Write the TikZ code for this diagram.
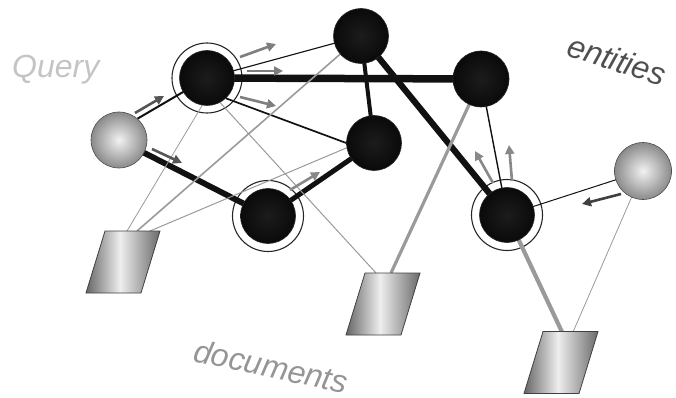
\documentclass[tikz,border=0pt]{standalone}
\usepackage{fontspec}
\setmainfont{Liberation Sans}
\usetikzlibrary{arrows.meta}
\pgfdeclarelayer{ringlayer}
\pgfdeclarelayer{edgelayer}
\pgfsetlayers{ringlayer,edgelayer,main}
\definecolor{entin}{HTML}{1C1C1C}
\definecolor{entout}{HTML}{0A0A0A}
\definecolor{ballin}{HTML}{F2F2F2}
\definecolor{ballout}{HTML}{8A8A8A}
\definecolor{docdark}{HTML}{666666}
\definecolor{doclight}{HTML}{EEEEEE}
\definecolor{docdarkb}{HTML}{6A6A6A}
\definecolor{docline}{HTML}{404040}
\definecolor{blk}{HTML}{111111}
\definecolor{gry}{HTML}{9A9A9A}
\definecolor{qcol}{HTML}{C4C4C4}
\definecolor{ecol}{HTML}{505050}
\definecolor{dcol}{HTML}{959595}
\definecolor{arrdark}{HTML}{555555}
\definecolor{arrmid}{HTML}{7E7E7E}
\definecolor{arrlight}{HTML}{888888}
\definecolor{arrdarker}{HTML}{404040}
\pgfdeclarehorizontalshading{docshade}{100bp}{color(0bp)=(docdark); color(25bp)=(docdark); color(48bp)=(doclight); color(75bp)=(docdarkb); color(100bp)=(docdarkb)}
\newcommand\docpara[1]{\shade[shading=docshade, draw=docline, line width=0.8pt, shift={(#1)}] (-18,-31) -- (37,-31) -- (18,31) -- (-37,31) -- cycle;}
\begin{document}
\begin{tikzpicture}[x=1pt,y=-1pt,
  ent/.style={circle, minimum size=55pt, inner sep=0pt, draw=black!85, line width=0.6pt, inner color=entin, outer color=entout},
  ball/.style={circle, minimum size=56pt, inner sep=0pt, draw=gray!60!black, line width=0.6pt, inner color=ballin, outer color=ballout},
  ringnode/.style={circle, minimum size=70pt, inner sep=0pt, draw=black!85, line width=1.1pt, fill=white},
  bline/.style={draw=blk},
  gline/.style={draw=gry},
  flow/.style={line width=2.6pt, -{Triangle[length=9pt,width=9pt]}},
  lab/.style={inner sep=0pt, font=\fontsize{32}{32}\selectfont\itshape}
]
\useasboundingbox (0,0) rectangle (676,398);

% nodes
\node[ball] (q1) at (119,140) {};
\node[ent] (e1) at (207,78) {};
\node[ent] (e2) at (361,36) {};
\node[ent, minimum size=56pt] (e3) at (481,79) {};
\node[ent] (e4) at (374,143) {};
\node[ent] (e5) at (268,216) {};
\node[ent] (e6) at (507,215) {};
\node[ball, minimum size=57pt] (q2) at (643,171) {};

\begin{pgfonlayer}{ringlayer}
\node[ringnode] (r1) at (e1) {};
\node[ringnode, minimum size=71pt] (r5) at (e5) {};
\node[ringnode, minimum size=71pt] (r6) at (e6) {};
\end{pgfonlayer}

% documents
\coordinate (d1) at (123,262);
\coordinate (d2) at (383,304);
\coordinate (d3) at (561,362.5);
\coordinate (d1a) at (127,231);
\coordinate (d1b) at (137,231);
\coordinate (d1c) at (150,231);
\coordinate (d2a) at (376,273);
\coordinate (d2b) at (391,273);
\coordinate (d3a) at (562,332);
\coordinate (d3b) at (573,332);
\docpara{d1}
\docpara{d2}
\docpara{d3}

\begin{pgfonlayer}{edgelayer}
\draw[bline, line width=2pt] (q1.49) -- (e1.center);
\draw[bline, line width=5.8pt] (q1.center) -- (e5.center);
\draw[bline, line width=7.5pt] (e1.center) -- (e3.center);
\draw[bline, line width=1.1pt] (e1.center) -- (e2.center);
\draw[bline, line width=1.7pt] (e1.-47) -- (e4.180);
\draw[bline, line width=4pt] (e2.center) -- (e4.center);
\draw[bline, line width=6.2pt] (e2.center) -- (e6.center);
\draw[bline, line width=5pt] (e4.center) -- (e5.center);
\draw[bline, line width=1.4pt] (e3.center) -- (e6.center);
\draw[bline, line width=1pt] (e6.center) -- (q2.center);
\draw[gline, line width=0.8pt] (e1.-100) -- (d1a);
\draw[gline, line width=1.6pt] (e2.center) -- (d1b);
\draw[gline, line width=1pt] (e4.190) -- (d1c);
\draw[gline, line width=1pt] (e1.-62) -- (d2a);
\draw[gline, line width=3.2pt] (e3.center) -- (d2b);
\draw[gline, line width=4.2pt] (e6.center) -- (d3a);
\draw[gline, line width=0.8pt] (q2.center) -- (d3b);
\end{pgfonlayer}

% flow arrows
\draw[flow, arrdark] (135,113) -- (164,96);
\draw[flow, arrdark] (152,149) -- (182,163);
\draw[flow, arrmid] (240,57) -- (276,44);
\draw[flow, arrmid] (247,71) -- (283,71);
\draw[flow, arrmid] (240,97) -- (276,106);
\draw[flow, arrlight] (290,190) -- (320,172);
\draw[flow, arrlight] (493,183) -- (475,151);
\draw[flow, arrlight] (512,181) -- (509,145);
\draw[flow, arrdarker] (621,194) -- (582,204);

% labels
\node[lab, text=qcol, anchor=base west] (tq) at (12,78) {Query};
\node[lab, text=ecol, anchor=base west, rotate=-18] (te) at (565,55) {entities};
\node[lab, text=dcol, anchor=base west, rotate=-12] (td) at (192,361) {documents};
\end{tikzpicture}
\end{document}
